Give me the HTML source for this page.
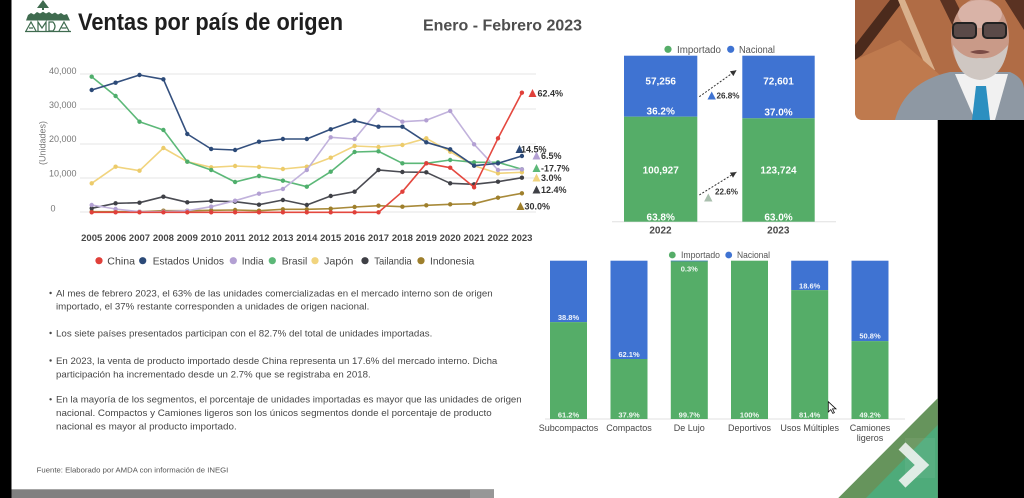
<!DOCTYPE html>
<html><head><meta charset="utf-8"><style>
html,body{margin:0;padding:0;background:#fff;}
svg{display:block;font-family:"Liberation Sans",sans-serif;}
</style></head><body>
<svg width="1024" height="498" viewBox="0 0 1024 498" xmlns="http://www.w3.org/2000/svg">
<defs>
<marker id="mUS" markerWidth="6" markerHeight="6" refX="3" refY="3" markerUnits="userSpaceOnUse"><circle cx="3" cy="3" r="2.2" fill="#2c4a78"/></marker>
<marker id="mBR" markerWidth="6" markerHeight="6" refX="3" refY="3" markerUnits="userSpaceOnUse"><circle cx="3" cy="3" r="2.2" fill="#4fae6c"/></marker>
<marker id="mJP" markerWidth="6" markerHeight="6" refX="3" refY="3" markerUnits="userSpaceOnUse"><circle cx="3" cy="3" r="2.2" fill="#eccb6a"/></marker>
<marker id="mIN" markerWidth="6" markerHeight="6" refX="3" refY="3" markerUnits="userSpaceOnUse"><circle cx="3" cy="3" r="2.2" fill="#b3a0d3"/></marker>
<marker id="mTH" markerWidth="6" markerHeight="6" refX="3" refY="3" markerUnits="userSpaceOnUse"><circle cx="3" cy="3" r="2.2" fill="#3f4046"/></marker>
<marker id="mID" markerWidth="6" markerHeight="6" refX="3" refY="3" markerUnits="userSpaceOnUse"><circle cx="3" cy="3" r="2.2" fill="#9e7f2c"/></marker>
<marker id="mCN" markerWidth="6" markerHeight="6" refX="3" refY="3" markerUnits="userSpaceOnUse"><circle cx="3" cy="3" r="2.2" fill="#e0403a"/></marker>
<marker id="arr" markerWidth="8" markerHeight="8" refX="6" refY="3" orient="auto" markerUnits="userSpaceOnUse"><path d="M0,0 L6,3 L0,6 z" fill="#333"/></marker>
</defs>

<!-- slide background -->
<rect x="0" y="0" width="1024" height="498" fill="#fff"/>
<rect x="0" y="0" width="11.5" height="498" fill="#000"/>
<rect x="937.7" y="0" width="86.3" height="498" fill="#000"/>

<!-- logo -->
<g fill="#3f6b4f">
<polygon points="43,0 37,8 49,8"/>
<rect x="42" y="7" width="2" height="3"/>
<path d="M26,20.5 L28,15 L31,13 L34,14.5 L37,12 L40,13.5 L43,11.7 L46,13.5 L49,12 L52,14 L55,12.5 L58,14.5 L61,13 L64,15 L67,14 L70,20.5 Z"/>
</g>
<g fill="none" stroke="#3f6b4f" stroke-width="1.2">
<path d="M26,31 L31,22 L36,31 M29,28 L33,28"/>
<path d="M38,31 L38,22 L42,28 L46,22 L46,31"/>
<path d="M49,31 L49,22 L53,22 Q57,26.5 53,31 Z"/>
<path d="M59,31 L64,22 L69,31 M61.5,28 L66.5,28"/>
<path d="M25,31.5 L71,31.5"/>
</g>

<!-- titles -->
<text x="78" y="30" font-size="24" font-weight="bold" fill="#1e1e1e" textLength="265" lengthAdjust="spacingAndGlyphs">Ventas por país de origen</text>
<text x="423" y="30.5" font-size="16" font-weight="bold" fill="#4e4e4e" textLength="159" lengthAdjust="spacingAndGlyphs">Enero - Febrero 2023</text>

<!-- line chart grid -->
<g stroke="#e4e4e4" stroke-width="1">
<line x1="80" y1="74" x2="536" y2="74"/>
<line x1="80" y1="109" x2="536" y2="109"/>
<line x1="80" y1="144" x2="536" y2="144"/>
<line x1="80" y1="178" x2="536" y2="178"/>
<line x1="80" y1="212" x2="536" y2="212"/>
</g>
<g font-size="9" fill="#777">
<text x="49" y="74">40,000</text>
<text x="49" y="108">30,000</text>
<text x="49" y="142">20,000</text>
<text x="49" y="176.5">10,000</text>
<text x="50.5" y="211.5">0</text>
</g>
<text transform="translate(45.5,143) rotate(-90)" font-size="9" fill="#777" text-anchor="middle">(Unidades)</text>

<g font-size="9.5" font-weight="bold" fill="#474747" text-anchor="middle">
<text x="91.7" y="241">2005</text><text x="115.6" y="241">2006</text><text x="139.5" y="241">2007</text><text x="163.4" y="241">2008</text><text x="187.3" y="241">2009</text><text x="211.2" y="241">2010</text><text x="235.1" y="241">2011</text><text x="259" y="241">2012</text><text x="282.9" y="241">2013</text><text x="306.8" y="241">2014</text><text x="330.7" y="241">2015</text><text x="354.6" y="241">2016</text><text x="378.5" y="241">2017</text><text x="402.4" y="241">2018</text><text x="426.3" y="241">2019</text><text x="450.2" y="241">2020</text><text x="474.1" y="241">2021</text><text x="498" y="241">2022</text><text x="521.9" y="241">2023</text>
</g>

<!-- series -->
<g fill="none" stroke-width="1.6" stroke-linejoin="round" stroke-linecap="round">
<polyline stroke="#a88a3a" marker-start="url(#mID)" marker-mid="url(#mID)" marker-end="url(#mID)" points="91.7,211.7 115.6,211.7 139.5,211.7 163.4,210.7 187.3,210.7 211.2,210.3 235.1,210 259,210.7 282.9,209.3 306.8,209.3 330.7,208.7 354.6,207 378.5,205.7 402.4,206.7 426.3,205.3 450.2,204.3 474.1,203.7 498,197.7 521.9,193.3"/>
<polyline stroke="#4a4b52" marker-start="url(#mTH)" marker-mid="url(#mTH)" marker-end="url(#mTH)" points="91.7,208.3 115.6,203.3 139.5,202.7 163.4,196.7 187.3,202.3 211.2,201 235.1,201.7 259,204.7 282.9,200 306.8,205 330.7,196 354.6,191.7 378.5,170 402.4,172 426.3,172.3 450.2,183.3 474.1,184.3 498,181.7 521.9,177.7"/>
<polyline stroke="#f1d47e" marker-start="url(#mJP)" marker-mid="url(#mJP)" marker-end="url(#mJP)" points="91.7,183.3 115.6,166.7 139.5,170.7 163.4,148 187.3,161.7 211.2,167.3 235.1,166 259,167 282.9,169 306.8,166.7 330.7,157.7 354.6,146 378.5,147 402.4,145 426.3,138.3 450.2,151.7 474.1,165.7 498,173.3 521.9,172.3"/>
<polyline stroke="#5cb878" marker-start="url(#mBR)" marker-mid="url(#mBR)" marker-end="url(#mBR)" points="91.7,76.7 115.6,96 139.5,121.7 163.4,130 187.3,161.7 211.2,170 235.1,182 259,176 282.9,180.7 306.8,186.7 330.7,171.7 354.6,152 378.5,151.3 402.4,163.3 426.3,163.3 450.2,160 474.1,162.3 498,162.3 521.9,169.3"/>
<polyline stroke="#c1b2dc" marker-start="url(#mIN)" marker-mid="url(#mIN)" marker-end="url(#mIN)" points="91.7,205 115.6,209 139.5,211.7 163.4,211.7 187.3,210.7 211.2,206.7 235.1,200.7 259,193.7 282.9,189 306.8,170 330.7,137.3 354.6,139 378.5,110 402.4,121.7 426.3,120.3 450.2,111 474.1,144.3 498,170 521.9,169.3"/>
<polyline stroke="#34507e" marker-start="url(#mUS)" marker-mid="url(#mUS)" marker-end="url(#mUS)" points="91.7,90 115.6,82.7 139.5,75 163.4,79.3 187.3,134 211.2,149 235.1,150 259,141.7 282.9,139 306.8,139 330.7,129.3 354.6,120.7 378.5,126.7 402.4,126.7 426.3,142.3 450.2,149.3 474.1,165.7 498,163.3 521.9,156"/>
<polyline stroke="#e4483f" marker-start="url(#mCN)" marker-mid="url(#mCN)" marker-end="url(#mCN)" points="91.7,212.3 115.6,212.3 139.5,212.3 163.4,212.3 187.3,212.3 211.2,212.3 235.1,212.3 259,212.3 282.9,212.3 306.8,212.3 330.7,212.3 354.6,212.3 378.5,212.3 402.4,191.7 426.3,163.3 450.2,167.7 474.1,187.3 498,138.3 521.9,92.7"/>
</g>

<!-- annotations -->
<g font-size="9" font-weight="bold" fill="#333">
<polygon points="532.5,89 528.5,97 536.5,97" fill="#e0403a"/><text x="537.5" y="96.5">62.4%</text>
<polygon points="519.5,145 515.5,153 523.5,153" fill="#2c4a78"/><text x="521" y="152.5">14.5%</text>
<polygon points="536.5,151.5 532.5,159.5 540.5,159.5" fill="#b3a0d3"/><text x="541" y="159">6.5%</text>
<polygon points="536.5,164 532.5,172 540.5,172" fill="#5cb878"/><text x="541" y="171.5">-17.7%</text>
<polygon points="536.5,173.5 532.5,181.5 540.5,181.5" fill="#f1d47e"/><text x="541" y="181">3.0%</text>
<polygon points="536.5,185.5 532.5,193.5 540.5,193.5" fill="#3f4046"/><text x="541" y="193">12.4%</text>
<polygon points="520.5,202 516.5,210 524.5,210" fill="#9e7f2c"/><text x="524.5" y="209.5">30.0%</text>
</g>

<!-- legend line chart -->
<g font-size="10.5" fill="#444">
<circle cx="99" cy="260.7" r="3.6" fill="#e0403a"/><text x="107.3" y="264.5" textLength="27.7" lengthAdjust="spacingAndGlyphs">China</text>
<circle cx="142.7" cy="260.7" r="3.6" fill="#2c4a78"/><text x="152.7" y="264.5" textLength="71.3" lengthAdjust="spacingAndGlyphs">Estados Unidos</text>
<circle cx="233.3" cy="260.7" r="3.6" fill="#b3a0d3"/><text x="241.7" y="264.5" textLength="22" lengthAdjust="spacingAndGlyphs">India</text>
<circle cx="272.3" cy="260.7" r="3.6" fill="#5cb878"/><text x="281.7" y="264.5" textLength="25.6" lengthAdjust="spacingAndGlyphs">Brasil</text>
<circle cx="315" cy="260.7" r="3.6" fill="#f1d47e"/><text x="324" y="264.5" textLength="29.3" lengthAdjust="spacingAndGlyphs">Japón</text>
<circle cx="365" cy="260.7" r="3.6" fill="#3f4046"/><text x="374.3" y="264.5" textLength="37.4" lengthAdjust="spacingAndGlyphs">Tailandia</text>
<circle cx="421" cy="260.7" r="3.6" fill="#9e7f2c"/><text x="430" y="264.5" textLength="44.3" lengthAdjust="spacingAndGlyphs">Indonesia</text>
</g>

<!-- bullets -->
<g fill="#474747">
<circle cx="50.6" cy="293" r="1.2"/><circle cx="50.6" cy="333" r="1.2"/><circle cx="50.6" cy="360.5" r="1.2"/><circle cx="50.6" cy="399.3" r="1.2"/>
</g>
<g font-size="9.5" fill="#474747">
<text x="56" y="296.4" textLength="436.7" lengthAdjust="spacingAndGlyphs">Al mes de febrero 2023, el 63% de las unidades comercializadas en el mercado interno son de origen</text>
<text x="56" y="309.7" textLength="313.3" lengthAdjust="spacingAndGlyphs">importado, el 37% restante corresponden a unidades de origen nacional.</text>
<text x="56" y="336.4" textLength="376.3" lengthAdjust="spacingAndGlyphs">Los siete países presentados participan con el 82.7% del total de unidades importadas.</text>
<text x="56" y="363.9" textLength="441.3" lengthAdjust="spacingAndGlyphs">En 2023, la venta de producto importado desde China representa un 17.6% del mercado interno. Dicha</text>
<text x="56" y="377.5" textLength="314.7" lengthAdjust="spacingAndGlyphs">participación ha incrementado desde un 2.7% que se registraba en 2018.</text>
<text x="56" y="402.7" textLength="465.7" lengthAdjust="spacingAndGlyphs">En la mayoría de los segmentos, el porcentaje de unidades importadas es mayor que las unidades de origen</text>
<text x="56" y="416" textLength="435.7" lengthAdjust="spacingAndGlyphs">nacional. Compactos y Camiones ligeros son los únicos segmentos donde el porcentaje de producto</text>
<text x="56" y="429.3" textLength="180.7" lengthAdjust="spacingAndGlyphs">nacional es mayor al producto importado.</text>
</g>
<text x="36.7" y="472.7" font-size="7.5" fill="#555" textLength="191.6" lengthAdjust="spacingAndGlyphs">Fuente: Elaborado por AMDA con información de INEGI</text>

<!-- bottom gray bar -->
<rect x="11.5" y="489.3" width="482.5" height="8.7" fill="#808080"/>
<rect x="470" y="489.3" width="24" height="8.7" fill="#979797"/>

<!-- top right stacked chart -->
<circle cx="668" cy="49.3" r="3.6" fill="#55ad68"/>
<text x="677" y="52.8" font-size="10" fill="#555" textLength="44" lengthAdjust="spacingAndGlyphs">Importado</text>
<circle cx="730.7" cy="49.3" r="3.6" fill="#3f73d2"/>
<text x="739" y="52.8" font-size="10" fill="#555" textLength="36" lengthAdjust="spacingAndGlyphs">Nacional</text>
<line x1="612" y1="221.7" x2="836" y2="221.7" stroke="#e0e0e0" stroke-width="1"/>
<rect x="624" y="55.7" width="73.3" height="61" fill="#3f73d2"/>
<rect x="624" y="116.7" width="73.3" height="105" fill="#55ad68"/>
<rect x="742.3" y="55.7" width="72.4" height="62.6" fill="#3f73d2"/>
<rect x="742.3" y="118.3" width="72.4" height="103.4" fill="#55ad68"/>
<g font-size="10" font-weight="bold" fill="#fff" text-anchor="middle">
<text x="660.7" y="84.6">57,256</text>
<text x="660.7" y="114.3">36.2%</text>
<text x="660.7" y="173.6">100,927</text>
<text x="660.7" y="220.3">63.8%</text>
<text x="778.5" y="84.6">72,601</text>
<text x="778.5" y="115.3">37.0%</text>
<text x="778.5" y="173.6">123,724</text>
<text x="778.5" y="220.3">63.0%</text>
</g>
<g font-size="10" font-weight="bold" fill="#474747" text-anchor="middle">
<text x="660.5" y="233.6">2022</text>
<text x="778.3" y="233.6">2023</text>
</g>
<g stroke="#333" stroke-width="1" stroke-dasharray="2,1.6" fill="none">
<line x1="699.3" y1="96.7" x2="736.5" y2="70.2" marker-end="url(#arr)"/>
<line x1="699.3" y1="195" x2="736.5" y2="172" marker-end="url(#arr)"/>
</g>
<polygon points="711.7,91.5 707.5,99.5 715.9,99.5" fill="#3f73d2"/>
<text x="716.5" y="98.7" font-size="8.5" font-weight="bold" fill="#333" textLength="23" lengthAdjust="spacingAndGlyphs">26.8%</text>
<polygon points="708.3,193.5 704.1,201.5 712.5,201.5" fill="#a9bfae"/>
<text x="715" y="194.7" font-size="8.5" font-weight="bold" fill="#333" textLength="23" lengthAdjust="spacingAndGlyphs">22.6%</text>

<!-- bottom right segments chart -->
<circle cx="672.3" cy="255" r="3.4" fill="#55ad68"/>
<text x="681" y="258.2" font-size="9" fill="#555" textLength="39" lengthAdjust="spacingAndGlyphs">Importado</text>
<circle cx="728.7" cy="255" r="3.4" fill="#3f73d2"/>
<text x="737" y="258.2" font-size="9" fill="#555" textLength="33" lengthAdjust="spacingAndGlyphs">Nacional</text>
<line x1="545" y1="419" x2="905" y2="419" stroke="#e0e0e0" stroke-width="1"/>
<rect x="550" y="260.7" width="37" height="61.4" fill="#3f73d2"/><rect x="550" y="322.1" width="37" height="96.9" fill="#55ad68"/>
<rect x="610.5" y="260.7" width="37" height="98.3" fill="#3f73d2"/><rect x="610.5" y="359" width="37" height="60" fill="#55ad68"/>
<rect x="670.8" y="260.7" width="37" height="158.3" fill="#55ad68"/><rect x="670.8" y="260.7" width="37" height="0.6" fill="#3f73d2"/>
<rect x="731" y="260.7" width="37" height="158.3" fill="#55ad68"/>
<rect x="791.2" y="260.7" width="37" height="29.4" fill="#3f73d2"/><rect x="791.2" y="290.1" width="37" height="128.9" fill="#55ad68"/>
<rect x="851.5" y="260.7" width="37" height="80.4" fill="#3f73d2"/><rect x="851.5" y="341.1" width="37" height="77.9" fill="#55ad68"/>
<g font-size="7.5" font-weight="bold" fill="#fff" fill-opacity="0.92" text-anchor="middle">
<text x="568.5" y="320">38.8%</text><text x="568.5" y="417.7">61.2%</text>
<text x="629" y="357">62.1%</text><text x="629" y="417.7">37.9%</text>
<text x="689.3" y="271.7">0.3%</text><text x="689.3" y="417.7">99.7%</text>
<text x="749.5" y="417.7">100%</text>
<text x="809.7" y="288.7">18.6%</text><text x="809.7" y="417.7">81.4%</text>
<text x="870" y="338.7">50.8%</text><text x="870" y="417.7">49.2%</text>
</g>
<g font-size="9" fill="#474747" text-anchor="middle">
<text x="568.5" y="430.9">Subcompactos</text>
<text x="629" y="430.9">Compactos</text>
<text x="689.3" y="430.9">De Lujo</text>
<text x="749.5" y="430.9">Deportivos</text>
<text x="809.7" y="430.9">Usos Múltiples</text>
<text x="870" y="430.9">Camiones</text>
<text x="870" y="440.9">ligeros</text>
</g>
<!-- cursor -->
<path d="M828.3,401.7 L828.3,412 L830.8,409.6 L832.8,413.4 L834.4,412.7 L832.5,408.9 L836,408.9 Z" fill="#fff" stroke="#111" stroke-width="0.8"/>

<!-- decoration bottom right -->
<polygon points="937.7,398.3 937.7,498 838.3,498" fill="#66945c"/>
<polygon points="937.7,425 937.7,498 866,498" fill="#4eab7a"/>
<rect x="905" y="438" width="30" height="40" fill="#fff" fill-opacity="0.06"/>
<polyline points="902,446 922,465 902,484" fill="none" stroke="#eef3ef" stroke-opacity="0.9" stroke-width="10"/>

<!-- video panel -->
<clipPath id="vc"><path d="M855,0 H1024 V120 H863 Q855,120 855,112 Z"/></clipPath>
<g clip-path="url(#vc)">
<rect x="855" y="0" width="169" height="120" fill="#b06c45"/>
<polygon points="855,0 905,0 855,55" fill="#a05e3c"/>
<polygon points="890,0 904,0 862,55 855,60 855,45" fill="#4b2a1c"/>
<polygon points="898,0 905,0 935,70 928,72" fill="#d9b08c"/>
<polygon points="940,0 955,0 975,40 962,45" fill="#5a3222"/>
<polygon points="1005,0 1024,0 1024,30" fill="#5a3222"/>
<polygon points="855,60 900,40 940,75 900,120 855,120" fill="#bf7a4e"/>
<!-- suit -->
<path d="M895,120 Q905,82 950,72 L1010,72 Q1024,78 1024,90 L1024,120 Z" fill="#8e98a3"/>
<path d="M955,74 L975,120 L995,120 L1008,74 Z" fill="#f1f1f1"/>
<path d="M976,86 L986,86 L990,120 L972,120 Z" fill="#2b8fc0"/>
<!-- head -->
<ellipse cx="980" cy="38" rx="29" ry="40" fill="#c99a88"/>
<ellipse cx="980" cy="14" rx="22" ry="14" fill="#d9b3a7"/>
<path d="M953,45 Q956,78 980,80 Q1004,78 1008,45 Q996,60 980,58 Q964,60 953,45 Z" fill="#cfc7c2"/>
<rect x="953" y="23" width="23" height="15" rx="4" fill="#5a4a48" stroke="#222" stroke-width="2"/>
<rect x="983" y="23" width="23" height="15" rx="4" fill="#5a4a48" stroke="#222" stroke-width="2"/>
<path d="M970,52 Q980,48 990,52 Q980,56 970,52 Z" fill="#7a4a44"/>
</g>
</svg>
</body></html>
